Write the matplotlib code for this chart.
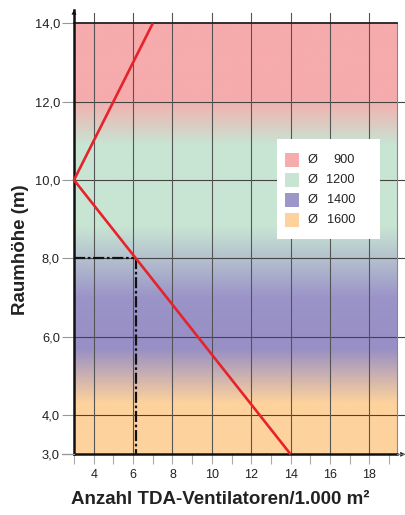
import numpy as np
import matplotlib
matplotlib.use("Agg")
import matplotlib.pyplot as plt
from matplotlib.colors import to_rgb
from matplotlib.patches import Rectangle

plt.rcParams['font.family'] = ['Liberation Sans', 'DejaVu Sans']

# ---- data ----
line_x = [7, 3, 14]
line_y = [14, 10, 3]
ref_height = 8.0
ref_count = 3 + (10 - ref_height) * (14 - 3) / (10 - 3)

y_ticks = [3, 4, 6, 8, 10, 12, 14]
y_ticklabels = ["3,0", "4,0", "6,0", "8,0", "10,0", "12,0", "14,0"]
x_major = [4, 6, 8, 10, 12, 14, 16, 18]
x_minor = list(range(3, 20))

legend_labels = ["900", "1200", "1400", "1600"]
legend_colors = ["#f6abac", "#c8e5d3", "#9d96c9", "#fed29d"]

# background band stops (height, color)
band_heights = [14.0, 12.1, 10.9, 8.8, 7.0, 5.7, 4.3, 3.0]
band_colors = ["#f6abac", "#f6abac", "#c8e5d3", "#c8e5d3",
               "#9b94c8", "#978fc5", "#fed29d", "#fed29d"]

W, H = 406, 515
fig = plt.figure(figsize=(W / 100, H / 100), dpi=100)
L, R, T, B = 74, 397, 23.3, 454.3
ax = fig.add_axes([L / W, 1 - B / H, (R - L) / W, (B - T) / H])
XMIN, XMAX, YMIN, YMAX = 3, 19.4, 3, 14
ax.set_xlim(XMIN, XMAX)
ax.set_ylim(YMIN, YMAX)

# gradient background
ys = np.linspace(YMIN, YMAX, 600)
hs = band_heights[::-1]
cs = np.array([to_rgb(c) for c in band_colors[::-1]])
img = np.zeros((len(ys), 1, 3))
for k in range(3):
    img[:, 0, k] = np.interp(ys, hs, cs[:, k])
ax.imshow(img, extent=[XMIN, XMAX, YMIN, YMAX], origin='lower', aspect='auto',
          interpolation='bilinear', zorder=0)

for s in ax.spines.values():
    s.set_visible(False)

# horizontal grid
for yv in [4, 6, 8, 10, 12]:
    ax.plot([XMIN, XMAX + 0.45], [yv, yv], color='#444444', lw=0.8, zorder=1, clip_on=False)
ax.plot([XMIN, XMAX], [14, 14], color='#222222', lw=1.3, zorder=2, clip_on=False)
# vertical grid
for xv in x_major:
    ax.plot([xv, xv], [YMIN, YMAX + 0.26], color='#555555', lw=0.8, zorder=1, clip_on=False)
ax.plot([XMAX, XMAX], [YMIN, YMAX], color='#888888', lw=0.8, zorder=1, clip_on=False)

# axes lines with arrows
ax.plot([XMIN, XMIN], [YMIN, YMAX + 0.35], color='#111111', lw=1.8, zorder=5, clip_on=False)
ax.plot([XMIN, XMAX], [YMIN, YMIN], color='#111111', lw=1.8, zorder=5, clip_on=False)
ax.plot([XMAX, XMAX + 0.3], [YMIN, YMIN], color='#777777', lw=0.9, zorder=5, clip_on=False)
ax.plot([XMIN - 0.6, XMIN], [YMIN, YMIN], color='#999999', lw=0.9, zorder=5, clip_on=False)
ax.annotate('', xy=(XMIN, YMAX + 0.42), xytext=(XMIN, YMAX + 0.2),
            arrowprops=dict(arrowstyle='-|>', color='#111111', lw=0, mutation_scale=9),
            annotation_clip=False)
ax.annotate('', xy=(XMAX + 0.42, YMIN), xytext=(XMAX + 0.2, YMIN),
            arrowprops=dict(arrowstyle='-|>', color='#111111', lw=0, mutation_scale=9),
            annotation_clip=False)

# ticks
ax.set_yticks(y_ticks)
ax.set_yticklabels(y_ticklabels)
ax.tick_params(axis='y', length=8.6, width=0.8, color='#999999', pad=1.5,
               labelsize=9.3, labelcolor='#222222')
ax.set_xticks(x_minor)
ax.set_xticklabels([str(v) if v in x_major else '' for v in x_minor])
ax.tick_params(axis='x', length=7.2, width=0.8, color='#aaaaaa', pad=3.5,
               labelsize=9, labelcolor='#222222')

# reference lines
ax.plot([XMIN, ref_count], [ref_height, ref_height], color='#111111', lw=1.6,
        dashes=(5, 1.2, 1.2, 1.2), zorder=6, clip_on=False)
ax.plot([ref_count, ref_count], [ref_height, YMIN], color='#111111', lw=1.6,
        dashes=(5, 1.2, 1.2, 1.2), zorder=6)

# main line
ax.plot(line_x, line_y, color='#e8222b', lw=1.9, zorder=7, solid_capstyle='butt',
        clip_on=False)

# legend (drawn in pixel coords)
def px(x, y):
    return x / W, 1 - y / H

lx0, ly0, lx1, ly1 = 277, 139, 380, 239
fig.add_artist(Rectangle(px(lx0, ly1), (lx1 - lx0) / W, (ly1 - ly0) / H,
                         transform=fig.transFigure, facecolor='white', edgecolor='none', zorder=10))
for i, (lab, col) in enumerate(zip(legend_labels, legend_colors)):
    yc = 160 + i * 20
    fig.add_artist(Rectangle(px(285, yc + 7), 14 / W, 14 / H, transform=fig.transFigure,
                             facecolor=col, edgecolor='none', zorder=11))
    fig.text(*px(308, yc), "Ø", ha='left', va='center', fontsize=9.2, color='#222222', zorder=12)
    fig.text(*px(355, yc), lab, ha='right', va='center', fontsize=9.2, color='#222222', zorder=12)

# axis labels
fig.text(*px(21, 250), "Raumhöhe (m)", rotation=90, ha='center', va='center',
         fontsize=13.5, fontweight='bold', color='#222222')
fig.text(*px(220, 500), "Anzahl TDA-Ventilatoren/1.000 m²", ha='center', va='center',
         fontsize=13.5, fontweight='bold', color='#222222')

fig.savefig("out.png", dpi=100)
